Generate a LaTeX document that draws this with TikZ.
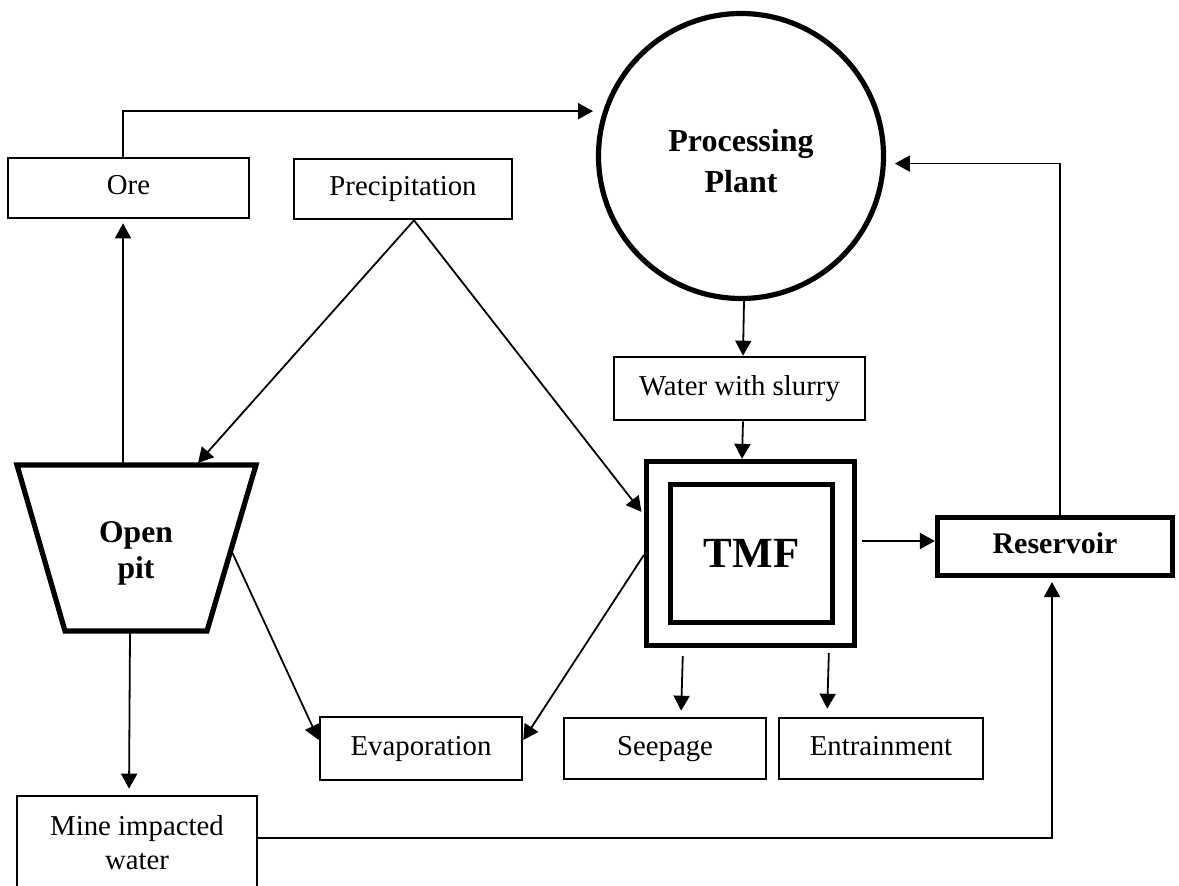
\documentclass[tikz,border=0pt]{standalone}
\usepackage{fontspec}
\setmainfont{Liberation Serif}
\usetikzlibrary{arrows.meta}
\begin{document}
\begin{tikzpicture}[x=0.5pt,y=-0.5pt,
  box/.style={draw,line width=1.3pt,rectangle,inner sep=0pt,align=center,
              font=\fontsize{14.4}{17}\selectfont},
  linebox/.style={box,text height=10pt,text depth=3pt},
  heavybox/.style={draw,line width=2.6pt,rectangle,inner sep=0pt,align=center},
  boldtext/.style={font=\fontsize{15.8}{18}\selectfont\bfseries,align=center},
  flow/.style={line width=0.9pt,-{Triangle[length=7.5pt,width=8pt]}},
  link/.style={line width=0.9pt}]
\useasboundingbox (0,0) rectangle (1179,886);

% plain boxes
\node[linebox,minimum width=120.5pt,minimum height=30pt] (ore) at (128.5,188) {Ore};
\node[linebox,minimum width=109pt,minimum height=30pt] (precip) at (403,189) {Precipitation};
\node[linebox,minimum width=125.5pt,minimum height=31.5pt] (wws) at (739.5,388.5) {Water with slurry};
\node[linebox,minimum width=101pt,minimum height=31.5pt] (evap) at (421,748.5) {Evaporation};
\node[linebox,minimum width=101pt,minimum height=30.5pt] (seep) at (665,748.5) {Seepage};
\node[linebox,minimum width=102pt,minimum height=30.5pt] (entr) at (881,748.5) {Entrainment};
\begin{scope}
  \clip (0,0) rectangle (1179,886);
  \node[box,minimum width=120pt,minimum height=47pt] (mine) at (137,843) {Mine impacted\\water};
\end{scope}

% processing plant
\node[draw,circle,line width=2.6pt,minimum size=142.5pt,inner sep=0pt] (pp) at (741,156) {};
\node[boldtext,font=\fontsize{16}{20.5}\selectfont\bfseries] (pptext) at (741,161) {Processing\\Plant};

% tailings management facility (double frame)
\node[heavybox,minimum width=104pt,minimum height=92pt] (tmf) at (750.5,553.5) {};
\node[heavybox,minimum width=81pt,minimum height=69pt,font=\fontsize{21.5}{24}\selectfont\bfseries] (tmfin) at (751.5,553.5) {TMF};

% reservoir
\node[heavybox,minimum width=117.5pt,minimum height=29pt,text height=10.5pt,text depth=3pt,font=\fontsize{15}{18}\selectfont\bfseries] (res) at (1055,546.5) {Reservoir};

% open pit
\draw[line width=2.6pt,line join=miter] (17,465) -- (256,465) -- (207,631) -- (65,631) -- cycle;
\node[boldtext] (pit) at (136,553) {Open\\pit};
\coordinate (pitA) at (123,463);
\coordinate (pitB) at (198,463);
\coordinate (pitSide) at (232,552);
\coordinate (pitBot) at (130,633);

% flows
\draw[flow,shorten >=5pt] ([xshift=-2.75pt]ore.north) |- (pp.162);
\draw[flow,shorten >=4.5pt] ([xshift=2.5pt]res.north) |- (pp.-3);
\draw[flow] ([xshift=1.5pt]pp.south) -- ([xshift=1.75pt]wws.north);
\draw[flow] ([xshift=1.75pt]wws.south) -- ([xshift=-4.25pt]tmf.north);
\draw[flow,shorten <=2.5pt] ([yshift=6.25pt]tmf.east) -- ([yshift=2.75pt]res.west);
\draw[flow,shorten <=4pt,shorten >=3pt] ([xshift=-33.75pt]tmf.south) -- ([xshift=8pt]seep.north);
\draw[flow,shorten <=2.5pt,shorten >=4pt] ([xshift=39.25pt]tmf.south) -- ([xshift=-27pt]entr.north);
\draw[flow] ([yshift=-0.75pt]tmf.west) -- ([yshift=4.25pt]evap.east);
\draw[flow] (pitSide) -- ([yshift=4.25pt]evap.west);
\draw[flow] ([xshift=5.5pt]precip.south) -- (pitB);
\draw[flow,shorten >=2pt] ([xshift=5.5pt]precip.south) -- ([yshift=19.25pt]tmf.west);
\draw[flow,shorten >=2pt] (pitA) -- ([xshift=-2.75pt]ore.south);
\draw[flow,shorten >=3pt] (pitBot) -- ([xshift=-4pt]mine.north);
\draw[flow,shorten >=2pt] ([yshift=2.5pt]mine.east) -| ([xshift=-1.5pt]res.south);
\end{tikzpicture}
\end{document}
